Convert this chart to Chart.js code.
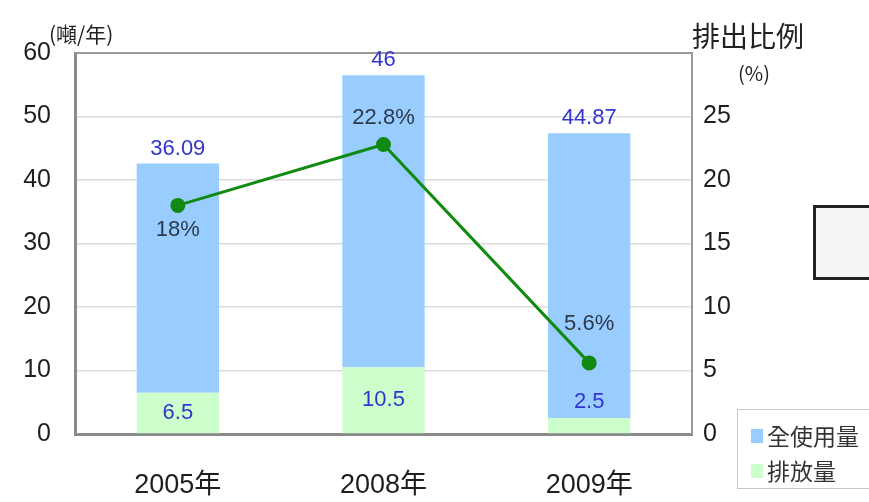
<!DOCTYPE html>
<html>
<head>
<meta charset="utf-8">
<script src="https://cdn.jsdelivr.net/npm/chart.js@4/dist/chart.umd.min.js"></script>
<style>
  html, body { margin: 0; padding: 0; background: #fff; }
  #wrap { width: 869px; height: 502px; position: relative; }
</style>
</head>
<body>
<div id="wrap"><canvas id="chart"></canvas></div>
<script>
const years = ['2005年', '2008年', '2009年'];
const emitted = [6.5, 10.5, 2.5];          // 排放量
const totalUse = [36.09, 46, 44.87];       // 全使用量
const ratio = [18, 22.8, 5.6];             // 排出比例 (%)
const leftTicks = [0, 10, 20, 30, 40, 50, 60];
const rightTicks = [0, 5, 10, 15, 20, 25];

const FONT = "'Liberation Sans', Arial, 'Noto Sans CJK TC', sans-serif";
const CJK = "'Noto Sans CJK TC', 'Noto Sans CJK SC', sans-serif";

// labels, frame, legend and side box
const decor = {
  id: 'decor',
  afterDatasetsDraw(chart) {
    const ctx = chart.ctx;
    const a = chart.chartArea;
    ctx.save();

    // frame on top and right
    ctx.strokeStyle = '#9a9a9a';
    ctx.lineWidth = 2;
    ctx.beginPath();
    ctx.moveTo(a.left, a.top);
    ctx.lineTo(a.right, a.top);
    ctx.lineTo(a.right, a.bottom);
    ctx.stroke();

    // bar labels
    ctx.font = '22px ' + FONT;
    ctx.fillStyle = '#3434cc';
    ctx.textAlign = 'center';
    ctx.textBaseline = 'middle';
    const greenMeta = chart.getDatasetMeta(0);
    const blueMeta = chart.getDatasetMeta(1);
    greenMeta.data.forEach((bar, i) => {
      const h = bar.base - bar.y;
      const y = h < 24 ? bar.y - 16 : (bar.y + bar.base) / 2;
      ctx.fillText(String(emitted[i]), bar.x, y);
    });
    blueMeta.data.forEach((bar, i) => {
      ctx.fillText(String(totalUse[i]), bar.x, bar.y - 15);
    });

    // line labels
    ctx.font = '22px ' + FONT;
    ctx.fillStyle = '#2c3a4c';
    const lineMeta = chart.getDatasetMeta(2);
    const offs = [25, -27, -39];
    lineMeta.data.forEach((pt, i) => {
      ctx.fillText(ratio[i] + '%', pt.x, pt.y + offs[i]);
    });

    // axis titles
    ctx.fillStyle = '#222';
    ctx.textAlign = 'left';
    ctx.font = '21px ' + CJK;
    ctx.fillText('(噸/年)', 49, 34);
    ctx.font = '28px ' + CJK;
    ctx.fillText('排出比例', 692, 36);
    ctx.font = '20px ' + CJK;
    ctx.fillText('(%)', 738, 73);

    // legend box
    ctx.strokeStyle = '#c8c8c8';
    ctx.lineWidth = 1;
    ctx.strokeRect(737.5, 409.5, 150, 79);
    const items = [
      { label: chart.data.datasets[1].label, color: chart.data.datasets[1].backgroundColor, y: 436 },
      { label: chart.data.datasets[0].label, color: chart.data.datasets[0].backgroundColor, y: 471 }
    ];
    ctx.font = '23px ' + CJK;
    items.forEach(it => {
      ctx.fillStyle = it.color;
      ctx.fillRect(751, it.y - 7, 12, 14);
      ctx.fillStyle = '#333';
      ctx.fillText(it.label, 767, it.y);
    });

    // side box (cut off at the edge)
    ctx.fillStyle = '#f4f4f4';
    ctx.fillRect(814, 206, 70, 72);
    ctx.strokeStyle = '#222';
    ctx.lineWidth = 3;
    ctx.strokeRect(814.5, 206.5, 70, 72);

    ctx.restore();
  }
};

new Chart(document.getElementById('chart'), {
  data: {
    labels: years,
    datasets: [
      {
        type: 'bar',
        label: '排放量',
        data: emitted,
        backgroundColor: '#ccffcc',
        stack: 's',
        yAxisID: 'y',
        barPercentage: 0.4,
        categoryPercentage: 1,
        order: 2
      },
      {
        type: 'bar',
        label: '全使用量',
        data: totalUse,
        backgroundColor: '#99ccff',
        stack: 's',
        yAxisID: 'y',
        barPercentage: 0.4,
        categoryPercentage: 1,
        order: 2
      },
      {
        type: 'line',
        label: '排出比例',
        data: ratio,
        yAxisID: 'y1',
        borderColor: '#108a10',
        backgroundColor: '#108a10',
        borderWidth: 3,
        pointRadius: 6,
        pointBackgroundColor: '#108a10',
        tension: 0,
        order: 1
      }
    ]
  },
  options: {
    responsive: true,
    maintainAspectRatio: false,
    animation: false,
    layout: { padding: { top: 53, left: 0, right: 0, bottom: 0 } },
    plugins: {
      legend: { display: false },
      tooltip: { enabled: false }
    },
    scales: {
      x: {
        stacked: true,
        grid: { display: false },
        border: { display: true, color: '#8a8a8a', width: 3 },
        ticks: { color: '#1e1e1e', font: { size: 27, family: FONT }, padding: 27 },
        afterFit(s) { s.height = 68; }
      },
      y: {
        stacked: true,
        position: 'left',
        min: 0,
        max: 60,
        afterBuildTicks(s) { s.ticks = leftTicks.map(v => ({ value: v })); },
        grid: { color: '#dcdcdc', lineWidth: 1.5, drawTicks: false },
        border: { display: true, color: '#8a8a8a', width: 3 },
        ticks: { color: '#1e1e1e', font: { size: 25, family: FONT }, padding: 24 },
        afterFit(s) { s.width = 75; }
      },
      y1: {
        position: 'right',
        min: 0,
        max: 30,
        afterBuildTicks(s) { s.ticks = rightTicks.map(v => ({ value: v })); },
        grid: { display: false, drawTicks: false },
        border: { display: false },
        ticks: { color: '#1e1e1e', font: { size: 25, family: FONT }, padding: 11 },
        afterFit(s) { s.width = 177; }
      }
    }
  },
  plugins: [decor]
});
</script>
</body>
</html>
